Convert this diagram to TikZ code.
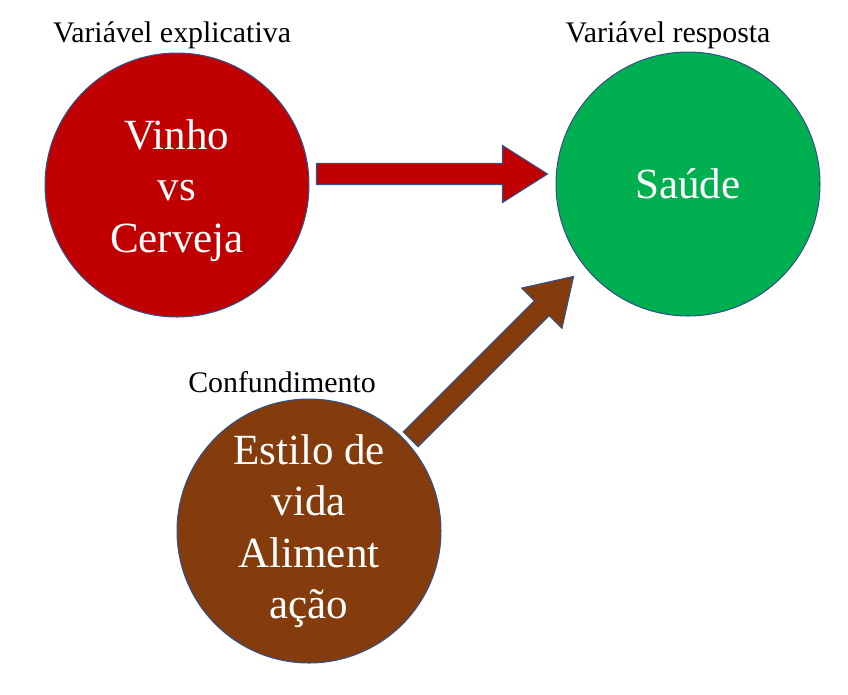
\documentclass[tikz,border=0pt]{standalone}
\usepackage{fontspec}
\setmainfont{Liberation Serif}
\usetikzlibrary{calc}

\definecolor{vinhored}{HTML}{C00000}
\definecolor{saudegreen}{HTML}{00B050}
\definecolor{estilobrown}{HTML}{843C0C}
\definecolor{edgeblue}{HTML}{2F528F}

\tikzset{
  bigcircle/.style={circle, draw=edgeblue, line width=0.6pt, minimum size=5.28cm, inner sep=0pt,
    text=white, align=center, font=\fontsize{24.5}{29.3}\selectfont},
  toplabel/.style={font=\fontsize{17}{20}\selectfont},
  arrowedge/.style={draw=edgeblue, line width=0.6pt, line join=miter}
}

% block arrow from #1 to #2, filled with #3
\newcommand{\blockarrow}[3]{%
  \coordinate (bah) at ($(#2)!0.9cm!(#1)$);
  \draw[arrowedge, fill=#3] ($(#1)!0.21cm!90:(#2)$) -- ($(bah)!0.21cm!90:(#2)$)
    -- ($(bah)!0.57cm!90:(#2)$) -- (#2) -- ($(bah)!0.57cm!-90:(#2)$)
    -- ($(bah)!0.21cm!-90:(#2)$) -- ($(#1)!0.21cm!-90:(#2)$) -- cycle;
}

\begin{document}
\begin{tikzpicture}[x=0.02cm, y=-0.02cm]
\useasboundingbox (0,0) rectangle (848,694);
% circles
\node[bigcircle, fill=vinhored] (vinho) at (177,185) {\\[-6pt]Vinho\\vs\\Cerveja};
\node[bigcircle, fill=saudegreen] (saude) at (688,184) {Saúde};
\node[bigcircle, fill=estilobrown] (estilo) at (309,531) {Estilo de\\vida\\Aliment\\ação};
% labels
\node[toplabel] (explic) at (172,35) {Variável explicativa};
\node[toplabel] (resp) at (668,35) {Variável resposta};
\node[toplabel] (conf) at (282,382) {Confundimento};
% arrows
\coordinate (a1s) at ($(vinho.east)+(7,-11)$);
\coordinate (a1e) at ($(saude.west)+(-8,-10)$);
\coordinate (a2s) at ($(estilo.45)+(8,2)$);
\coordinate (a2e) at ($(saude.225)+(-20.7,-1.3)$);
\blockarrow{a1s}{a1e}{vinhored}
\blockarrow{a2s}{a2e}{estilobrown}
\end{tikzpicture}
\end{document}
